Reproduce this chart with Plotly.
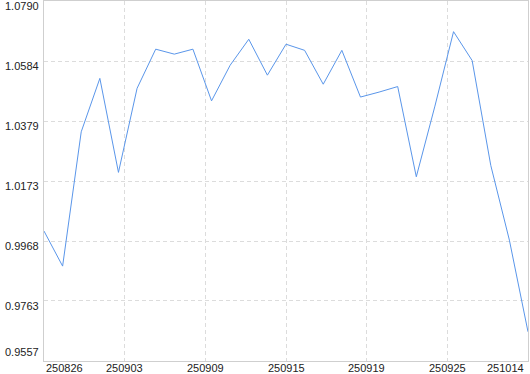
import plotly.graph_objects as go

values = [1.0002, 0.9882, 1.0342, 1.0525, 1.0203, 1.0491, 1.0625, 1.0608, 1.0625,
          1.0448, 1.0570, 1.0659, 1.0536, 1.0642, 1.0621, 1.0505, 1.0621, 1.0461,
          1.0478, 1.0497, 1.0188, 1.0430, 1.0685, 1.0586, 1.0227, 0.9971, 0.9657]
x_tick_labels = ["250826", "250903", "250909", "250915", "250919", "250925", "251014"]
y_tick_values = [1.0790, 1.0584, 1.0379, 1.0173, 0.9968, 0.9763, 0.9557]

n = len(values)
xs = list(range(n))
last = n - 1
nt = len(x_tick_labels)
x_tick_pos = [last * i / (nt - 1) for i in range(nt)]

fig = go.Figure()
fig.add_trace(go.Scatter(x=xs, y=values, mode="lines",
                         line=dict(color="#5a96ea", width=1), hoverinfo="skip"))

font = dict(family="Liberation Sans, Arial, sans-serif", size=11, color="#222222")
ann = []
for i, (p, t) in enumerate(zip(x_tick_pos, x_tick_labels)):
    anchor = "left" if i == 0 else ("right" if i == nt - 1 else "center")
    ann.append(dict(x=p, y=0, xref="x", yref="paper", text=t, showarrow=False,
                    xanchor=anchor, yanchor="top", font=font, yshift=1,
                    xshift=(-2 if i == nt - 1 else 0)))
ymin, ymax = min(y_tick_values), max(y_tick_values)
for v in y_tick_values:
    bottom = v == ymin
    ann.append(dict(x=0, y=v, xref="paper", yref="y", text=f"{v:.4f}", showarrow=False,
                    xanchor="right", yanchor=("bottom" if bottom else "top"),
                    font=font, xshift=-3, yshift=(1 if bottom else 3)))

fig.update_layout(
    width=530, height=374,
    margin=dict(l=44, r=2, t=1, b=13),
    paper_bgcolor="white", plot_bgcolor="white",
    showlegend=False,
    annotations=ann,
    xaxis=dict(range=[0, last], tickvals=x_tick_pos, showticklabels=False, ticks="",
               showgrid=True, gridcolor="#dcdcdc", griddash="4px,3px", gridwidth=1,
               showline=True, linecolor="#cfcfcf", linewidth=1, mirror=True,
               zeroline=False, fixedrange=True),
    yaxis=dict(range=[ymin, ymax], tickvals=y_tick_values, showticklabels=False, ticks="",
               showgrid=True, gridcolor="#dcdcdc", griddash="4px,3px", gridwidth=1,
               showline=True, linecolor="#cfcfcf", linewidth=1, mirror=True,
               zeroline=False, fixedrange=True),
)
fig.write_html("out.html")
